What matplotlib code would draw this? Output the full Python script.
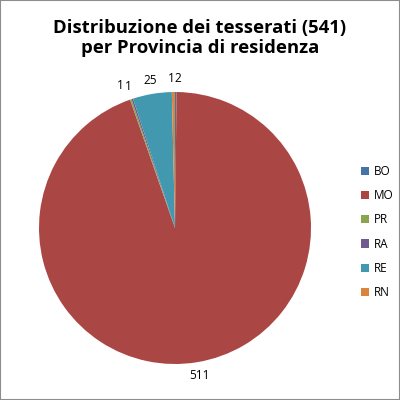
import matplotlib.pyplot as plt
from matplotlib.patches import Rectangle

# Province di residenza
province = ['BO', 'MO', 'PR', 'RA', 'RE', 'RN']
tesserati = [1, 511, 1, 1, 25, 2]
colori = ['#4572A7', '#AA4643', '#89A54E', '#71588F', '#4198AF', '#DB843D']

plt.rcParams['font.family'] = ['Open Sans', 'DejaVu Sans']

fig = plt.figure(figsize=(4, 4), dpi=100)
fig.patches.append(Rectangle((0, 0), 1, 1, transform=fig.transFigure,
                             fill=False, edgecolor='#8c8c8c', linewidth=1.5))

ax = fig.add_axes([0.0975, 0.09, 0.68, 0.68])
wedges, texts = ax.pie(tesserati, labels=[str(v) for v in tesserati],
                       colors=colori, startangle=90, counterclock=False,
                       labeldistance=1.1, textprops={'fontsize': 8.5})
for t in texts:
    t.set_horizontalalignment('center')

# spostamento delle etichette piccole (in pixel)
spost = {0: (-4.5, 0), 2: (-6, 1), 3: (0, -1), 5: (4.5, 0)}
for i, (dx, dy) in spost.items():
    x, y = texts[i].get_position()
    texts[i].set_position((x + dx / 136, y + dy / 136))

ax.set_xlim(-1, 1)
ax.set_ylim(-1, 1)
ax.set_aspect('equal')

fig.text(0.5, 0.905, 'Distribuzione dei tesserati (541)\nper Provincia di residenza',
         ha='center', va='center', fontsize=13.3, fontweight='bold', linespacing=1.1)

fig.legend(wedges, province, loc='center left', bbox_to_anchor=(0.875, 0.42),
           frameon=False, fontsize=8.5, handlelength=0.7, handleheight=0.7,
           labelspacing=0.95, handletextpad=0.4)

fig.savefig('out.png', dpi=100)
